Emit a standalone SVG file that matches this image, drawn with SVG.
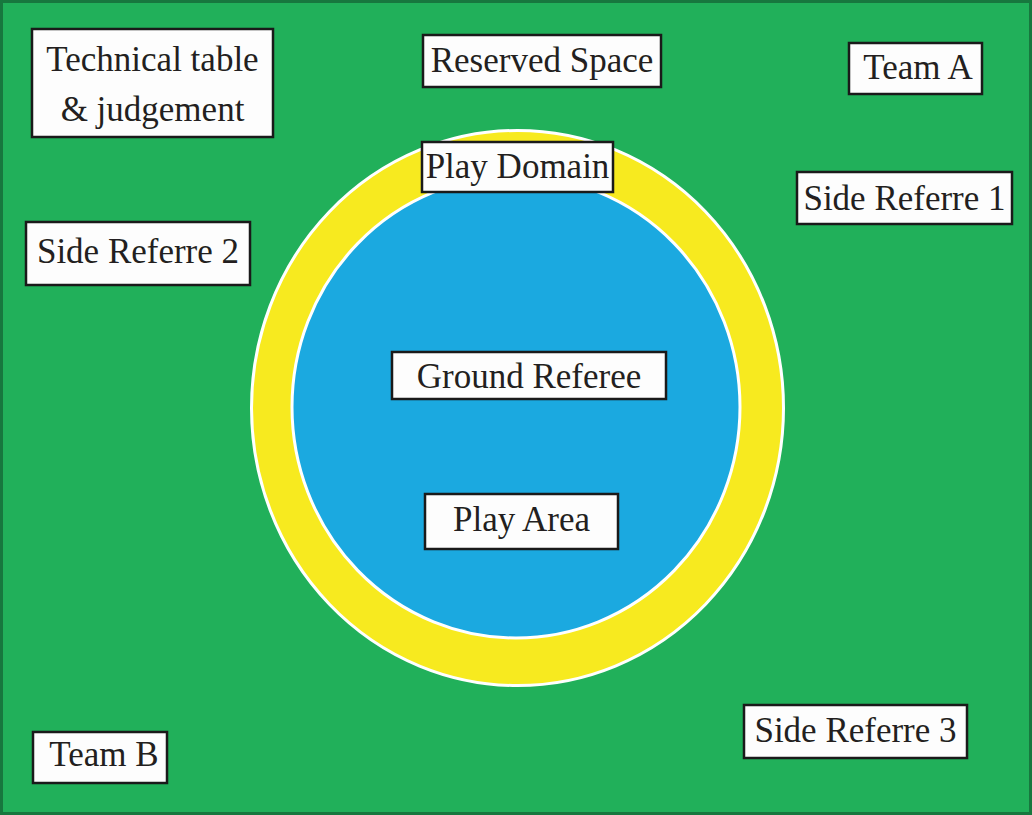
<svg xmlns="http://www.w3.org/2000/svg" width="1032" height="815" viewBox="0 0 1032 815">
<style>
.box{fill:#fdfdfd;stroke:#1a1a1a;stroke-width:2.5}
.t{font-family:"Liberation Serif","Times New Roman",serif;font-size:35px;fill:#231f20;text-anchor:middle}
</style>
<rect x="1.5" y="1.5" width="1029" height="812" fill="#21b05a" stroke="#17773e" stroke-width="3"/>
<g id="field">
<ellipse cx="517.5" cy="408" rx="266" ry="277.5" fill="#f7ea1f" stroke="#ffffff" stroke-width="3"/>
<ellipse cx="516" cy="407" rx="224" ry="231" fill="#1ba9e0" stroke="#ffffff" stroke-width="3"/>
</g>
<g id="connectors"></g>
<g id="technical-table"><rect class="box" x="32" y="29" width="241" height="108"/><text class="t" x="152.5" y="71">Technical table</text><text class="t" x="152.5" y="121">&amp; judgement</text></g>
<g id="reserved-space"><rect class="box" x="423" y="35" width="238" height="52"/><text class="t" x="542" y="72">Reserved Space</text></g>
<g id="team-a"><rect class="box" x="849" y="43" width="133" height="51"/><text class="t" x="918" y="79">Team A</text></g>
<g id="play-domain"><rect class="box" x="422" y="142" width="191" height="50"/><text class="t" x="517.5" y="178">Play Domain</text></g>
<g id="side-referre-1"><rect class="box" x="797" y="172" width="215" height="52"/><text class="t" x="904.5" y="210">Side Referre 1</text></g>
<g id="side-referre-2"><rect class="box" x="26" y="222" width="224" height="63"/><text class="t" x="138" y="263">Side Referre 2</text></g>
<g id="ground-referee"><rect class="box" x="392" y="352" width="274" height="47"/><text class="t" x="529" y="388">Ground Referee</text></g>
<g id="play-area"><rect class="box" x="425" y="494" width="193" height="55"/><text class="t" x="521.5" y="531">Play Area</text></g>
<g id="side-referre-3"><rect class="box" x="744" y="705" width="223" height="53"/><text class="t" x="855.5" y="742">Side Referre 3</text></g>
<g id="team-b"><rect class="box" x="33" y="732" width="134" height="51"/><text class="t" x="104" y="766">Team B</text></g>
</svg>
